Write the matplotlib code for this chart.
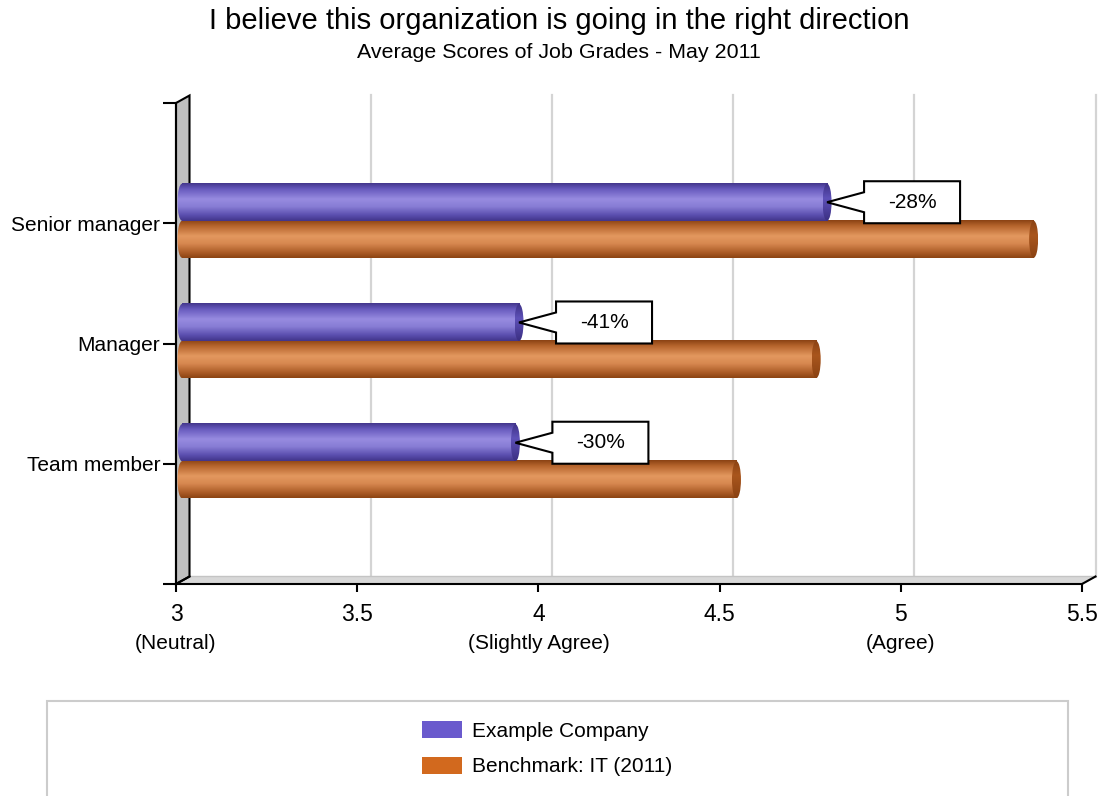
import matplotlib
matplotlib.use('Agg')
import matplotlib.pyplot as plt
import matplotlib.transforms as mtransforms
from matplotlib.colors import LinearSegmentedColormap
from matplotlib.patches import Ellipse, Polygon, Rectangle, Patch
import numpy as np

# data
categories = ['Team member', 'Manager', 'Senior manager']
company_scores = [3.92, 3.93, 4.78]
benchmark_scores = [4.53, 4.75, 5.35]
gap_labels = ['-30%', '-41%', '-28%']
x_ticks = [3, 3.5, 4, 4.5, 5, 5.5]
x_notes = {3: '(Neutral)', 4: '(Slightly Agree)', 5: '(Agree)'}
series_names = ['Example Company', 'Benchmark: IT (2011)']

plt.rcParams['font.family'] = ['Liberation Sans', 'DejaVu Sans']

W, H, DPI = 1101, 796, 100
fig = plt.figure(figsize=(W / DPI, H / DPI), dpi=DPI)
ax = fig.add_axes([176 / W, 212 / H, 906 / W, 481 / H])
ax.set_xlim(3, 5.5)
ax.set_ylim(-1, 3)
ax.set_autoscale_on(False)

px = 1 / DPI  # one pixel in inches
depth = (13.5, 7.5)  # px offset of the back plane
back = ax.get_xaxis_transform() + mtransforms.ScaledTranslation(depth[0] * px, depth[1] * px, fig.dpi_scale_trans)
bar_tr = ax.transData + mtransforms.ScaledTranslation(6 * px, 2.5 * px, fig.dpi_scale_trans)
pix = mtransforms.IdentityTransform()

# 3d frame: left wall and floor, in pixel coordinates
fx0, fy0 = ax.transAxes.transform((0, 0))
fx1, fy1 = ax.transAxes.transform((1, 1))
dx, dy = depth
ax.add_patch(Polygon([(fx0, fy0), (fx1, fy0), (fx1 + dx, fy0 + dy), (fx0 + dx, fy0 + dy)],
                     closed=True, facecolor='#d8d8d8', edgecolor='#c4c4c4', lw=1.0,
                     transform=pix, zorder=0.5, clip_on=False))
ax.add_patch(Polygon([(fx0, fy0), (fx0, fy1), (fx0 + dx, fy1 + dy), (fx0 + dx, fy0 + dy)],
                     closed=True, facecolor='#c0c0c0', edgecolor='black', lw=1.5,
                     transform=pix, zorder=1, clip_on=False))
ax.plot([fx1, fx1 + dx], [fy0, fy0 + dy], color='black', lw=1.5, transform=pix,
        clip_on=False, zorder=1)
ax.plot([fx0, fx0 + dx], [fy0, fy0 + dy], color='black', lw=1.5, transform=pix,
        clip_on=False, zorder=1)

# gridlines on the back wall
for v in x_ticks[1:]:
    ax.plot([v, v], [0, 1], color='#d4d4d4', lw=1.6, transform=back, clip_on=False, zorder=0.2)

for s in ['top', 'right']:
    ax.spines[s].set_visible(False)
for s in ['left', 'bottom']:
    ax.spines[s].set_linewidth(1.5)
    ax.spines[s].set_zorder(1.2)
ax.patch.set_visible(False)

ax.set_yticks([-1, 0, 1, 2, 3])
ax.set_yticklabels([''] + categories + [''], fontsize=15)
ax.tick_params(axis='y', length=9.5, width=1.5, pad=2)
ax.set_xticks(x_ticks)
ax.set_xticklabels([f'{t:g}' for t in x_ticks], fontsize=16.5)
ax.tick_params(axis='x', length=6, width=1.5, pad=8)
for v, note in x_notes.items():
    ax.annotate(note, (v, 0), xycoords=('data', 'axes fraction'), xytext=(0, -42.5),
                textcoords='offset points', ha='center', va='center', fontsize=15)

purple_cmap = LinearSegmentedColormap.from_list('purple', [
    (0.0, '#43368c'), (0.15, '#6659bd'), (0.42, '#978be0'),
    (0.62, '#887dd5'), (0.85, '#5a4eae'), (1.0, '#42358a')])
purple_cap = LinearSegmentedColormap.from_list('purple_cap', [
    (0.0, '#3d3185'), (0.4, '#5e51b8'), (1.0, '#3b2f82')])
orange_cmap = LinearSegmentedColormap.from_list('orange', [
    (0.0, '#8b4214'), (0.15, '#b5642c'), (0.42, '#e3985f'),
    (0.62, '#d78850'), (0.85, '#ad5d28'), (1.0, '#8c4413')])
orange_cap = LinearSegmentedColormap.from_list('orange_cap', [
    (0.0, '#8a4214'), (0.4, '#a9561d'), (1.0, '#8a4213')])

grad = np.linspace(0, 1, 128).reshape(-1, 1)
cap_w = 9 / (906 / 2.5)  # cap width in data units
bar_h = 0.308


def cylinder(x1, yc, cmap, cap_cmap):
    x0 = 3
    y0, y1 = yc - bar_h / 2, yc + bar_h / 2
    ax.imshow(grad, cmap=cmap, extent=(x0, x1, y0, y1), aspect='auto',
              transform=bar_tr, interpolation='bilinear', zorder=3)
    left = Ellipse((x0, yc), cap_w, bar_h, transform=bar_tr, facecolor='none', edgecolor='none')
    ax.add_patch(left)
    ax.imshow(grad, cmap=cmap, extent=(x0 - cap_w / 2, x0, y0, y1), aspect='auto',
              transform=bar_tr, interpolation='bilinear', zorder=3, clip_path=left)
    cap = Ellipse((x1, yc), cap_w, bar_h, transform=bar_tr, facecolor='none',
                  edgecolor='none', zorder=4)
    ax.add_patch(cap)
    ax.imshow(grad, cmap=cap_cmap, extent=(x1 - cap_w / 2, x1 + cap_w / 2, y0, y1),
              aspect='auto', transform=bar_tr, interpolation='bilinear', zorder=4,
              clip_path=cap)


for i, (c, b) in enumerate(zip(company_scores, benchmark_scores)):
    cylinder(b, i - bar_h / 2, orange_cmap, orange_cap)
    cylinder(c, i + bar_h / 2, purple_cmap, purple_cap)

# callouts pointing at the company bars
box = np.array([(0, 0), (37, 10), (37, 21), (133, 21), (133, -21),
                (37, -21), (37, -10)]) * px
for i, (c, label) in enumerate(zip(company_scores, gap_labels)):
    tr = fig.dpi_scale_trans + mtransforms.ScaledTranslation(c, i + bar_h / 2, bar_tr)
    ax.add_patch(Polygon(box, closed=True, facecolor='white', edgecolor='black',
                         lw=1.5, transform=tr, zorder=6, clip_on=False))
    ax.text(85 * px, 0, label, transform=tr, ha='center', va='center',
            fontsize=15, zorder=7)

fig.text(559 / W, 1 - 21 / H, 'I believe this organization is going in the right direction',
         ha='center', va='center', fontsize=21)
fig.text(559 / W, 1 - 52 / H, 'Average Scores of Job Grades - May 2011',
         ha='center', va='center', fontsize=15.4)

# legend area
fig.patches.append(Rectangle((47 / W, -0.05), (1068 - 47) / W, (796 - 701) / H + 0.05,
                             transform=fig.transFigure, facecolor='none',
                             edgecolor='#cccccc', lw=1.5))
handles = [Patch(facecolor='#6a5acd'), Patch(facecolor='#d2691e')]
fig.legend(handles, series_names, loc='upper left', bbox_to_anchor=(422 / W, 1 - 721 / H),
           frameon=False, fontsize=15, handlelength=1.92, handleheight=0.86,
           handletextpad=0.5, labelspacing=0.78, borderpad=0, borderaxespad=0)

fig.savefig('out.png', dpi=DPI)
